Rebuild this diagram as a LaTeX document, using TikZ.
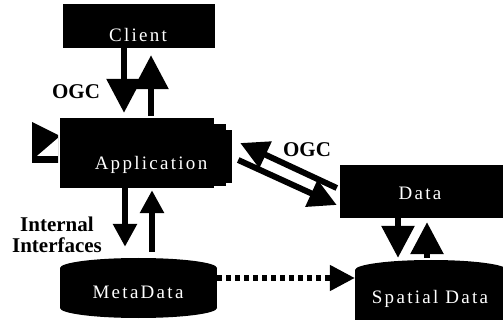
\documentclass[tikz,border=0pt]{standalone}
\usepackage{fontspec}
\setmainfont{Liberation Serif}
\newfontfamily\boxfont[LetterSpace=12]{Liberation Serif}
\usetikzlibrary{arrows.meta,calc}
\definecolor{ink}{RGB}{0,0,0}
\tikzset{panel/.style={fill=ink,inner sep=0pt},
         panelname/.style={text=white,font=\boxfont\fontsize{19}{19}\selectfont,inner sep=0pt},
         tag/.style={font=\bfseries\fontsize{21}{21}\selectfont,inner sep=0pt,align=center},
         flow/.style={draw=ink,line width=6pt,-{Triangle[length=#1,width=#1]}},
         flow/.default=33pt,
         hint/.style={draw=ink,line width=5pt,dash pattern=on 5pt off 4pt,-{Triangle[length=25pt,width=25pt]}}}

\begin{document}
\begin{tikzpicture}[x=1pt,y=-1pt]
  \useasboundingbox (0,0) rectangle (503,320);
  \clip (0,0) rectangle (503,320);
  % client
  \node[panel,minimum width=152pt,minimum height=44pt] (client) at (139,26) {};
  \node[panelname] (clientname) at (138,35) {Client};
  % application: stacked sheets and the flag on its left
  \fill[ink] (66,124) rectangle (226,186);
  \fill[ink] (72,130) rectangle (232,183);
  \node[panel,minimum width=154pt,minimum height=70pt] (app) at (137,153) {};
  \node[panelname] (appname) at (151,165) {Application};
  \fill[ink] (32,122) -- (58,135) -- (58,163) -- (32,163) -- cycle;
  \fill[white] (37,156) -- (58,138) -- (58,156) -- cycle;
  % data
  \node[panel,minimum width=163pt,minimum height=53pt] (data) at (421.5,191.5) {};
  \node[panelname] (dataname) at (420,193) {Data};
  % the two stores
  \fill[ink] (60,268) rectangle (217,308);
  \fill[ink] (138.5,268) ellipse [x radius=78.5,y radius=10];
  \fill[ink] (138.5,308) ellipse [x radius=78.5,y radius=10];
  \node[minimum width=157pt,minimum height=60pt,inner sep=0pt] (meta) at (138.5,288) {};
  \node[panelname] (metaname) at (138,292) {MetaData};
  \fill[ink] (355,270) rectangle (507,340);
  \fill[ink] (431,270) ellipse [x radius=76,y radius=10];
  \node[minimum width=152pt,minimum height=70pt,inner sep=0pt] (spatial) at (431,295) {};
  \node[panelname] (spatialname) at (430,299) {Spatial Data};
  % requests and replies
  \draw[flow=34pt,shorten >=5pt] ([xshift=-15pt]client.south) -- ([xshift=-15pt]client.south |- app.north);
  \draw[flow=34pt,shorten <=2pt,shorten >=7pt] ([xshift=12pt]client.south |- app.north) -- ([xshift=12pt]client.south);
  \draw[flow=23pt,shorten >=11pt] ([xshift=-12pt]app.south) -- ([xshift=-12pt]app.south |- meta.north);
  \draw[flow=23pt,shorten <=6pt,shorten >=2pt] ([xshift=15pt]app.south |- meta.north) -- ([xshift=15pt]app.south);
  \draw[flow=32pt,shorten >=2pt] ([xshift=-23.5pt]data.south) -- ([xshift=-23.5pt]data.south |- spatial.north);
  \draw[flow=32pt,shorten <=2pt,shorten >=4pt] ([xshift=5.5pt]data.south |- spatial.north) -- ([xshift=5.5pt]data.south);
  \draw[flow=28pt] ($(data.west)+(-3,-3.5)$) -- ($(app.east)+(26,-10)$);
  \draw[flow=28pt] ($(app.east)+(24,7)$) -- ($(data.west)+(-3,13.5)$);
  \draw[hint] ([yshift=10pt]meta.east) -- ([yshift=10pt]meta.east -| spatial.west);
  % labels
  \node[tag] (ogcclient) at (76,92) {OGC};
  \node[tag] (ogcdata) at (307,150) {OGC};
  \node[tag] (internal) at (57,235) {Internal\\Interfaces};
\end{tikzpicture}
\end{document}
